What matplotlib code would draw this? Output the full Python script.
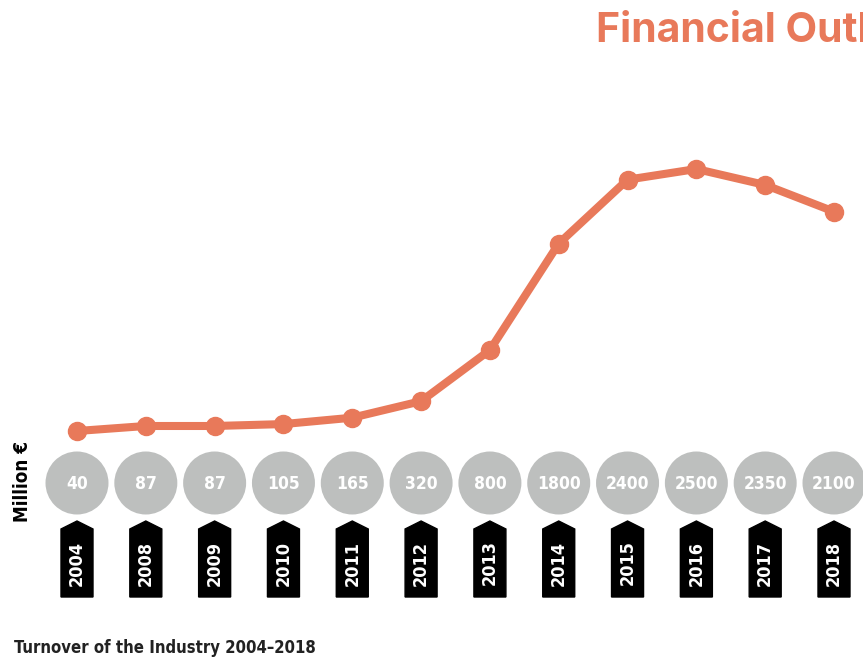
import matplotlib.pyplot as plt
from matplotlib.patches import Polygon
from matplotlib import font_manager

years = ["2004", "2008", "2009", "2010", "2011", "2012",
         "2013", "2014", "2015", "2016", "2017", "2018"]
turnover = [40, 87, 87, 105, 165, 320, 800, 1800, 2400, 2500, 2350, 2100]

orange = "#E8795A"
grey = "#BDBFBE"

# condensed bold face for the labels
cond = None
for f in font_manager.fontManager.ttflist:
    n = (f.name + " " + f.fname).lower()
    if ("condensed" in n or "narrow" in n) and f.weight in ("bold", 700):
        cond = f.fname
        break


def narrow(size):
    if cond:
        return font_manager.FontProperties(fname=cond, size=size)
    return font_manager.FontProperties(family="DejaVu Sans", weight="bold",
                                       size=size * 0.85)


W, H = 863, 660
fig = plt.figure(figsize=(W / 100, H / 100), dpi=100)

# deco layer: x in index units, y in pixels (top = 0)
deco = fig.add_axes([0, 0, 1, 1])
step = (834 - 77) / 11
xlim = (-77 / step, 11 + (W - 834) / step)
deco.set_xlim(*xlim)
deco.set_ylim(H, 0)
deco.axis("off")

# line layer
ax = fig.add_axes([0, 0, 1, 1], facecolor="none")
ax.set_xlim(*xlim)
ax.set_ylim(40 - 229 / 0.1065, 40 + 431 / 0.1065)
ax.axis("off")

idx = list(range(len(years)))
ax.plot(idx, turnover, color=orange, lw=5.8, marker="o", ms=13,
        solid_capstyle="round", zorder=3)

# value bubbles
deco.scatter(idx, [483] * len(idx), s=(63 * 0.72) ** 2, color=grey,
             edgecolors="none", zorder=2)
for i, v in zip(idx, turnover):
    deco.text(i, 484, str(v), ha="center", va="center", color="white",
              fontproperties=narrow(12.5), zorder=4)

# year tags
hw = 16 / step
for i, yr in zip(idx, years):
    tag = Polygon([(i - hw, 597), (i - hw, 529), (i, 521), (i + hw, 529),
                   (i + hw, 597)], closed=True, color="black", zorder=2)
    deco.add_patch(tag)
    deco.text(i, 563, yr, ha="center", va="center", rotation=90,
              color="white", fontproperties=narrow(13), zorder=4)

fig.text(23 / W, 1 - 482 / H, "Million €", rotation=90, ha="center",
         va="center", fontproperties=narrow(13.5))
fig.text(14 / W, 1 - 648 / H, "Turnover of the Industry 2004–2018",
         ha="left", va="center", fontproperties=narrow(12), color="#222222")
fig.text(596 / W, 1 - 31 / H, "Financial Outlook", ha="left", va="center",
         fontsize=29.5, fontweight="bold", color=orange,
         family=["Inter", "DejaVu Sans"])

fig.savefig("out.png", dpi=100)
